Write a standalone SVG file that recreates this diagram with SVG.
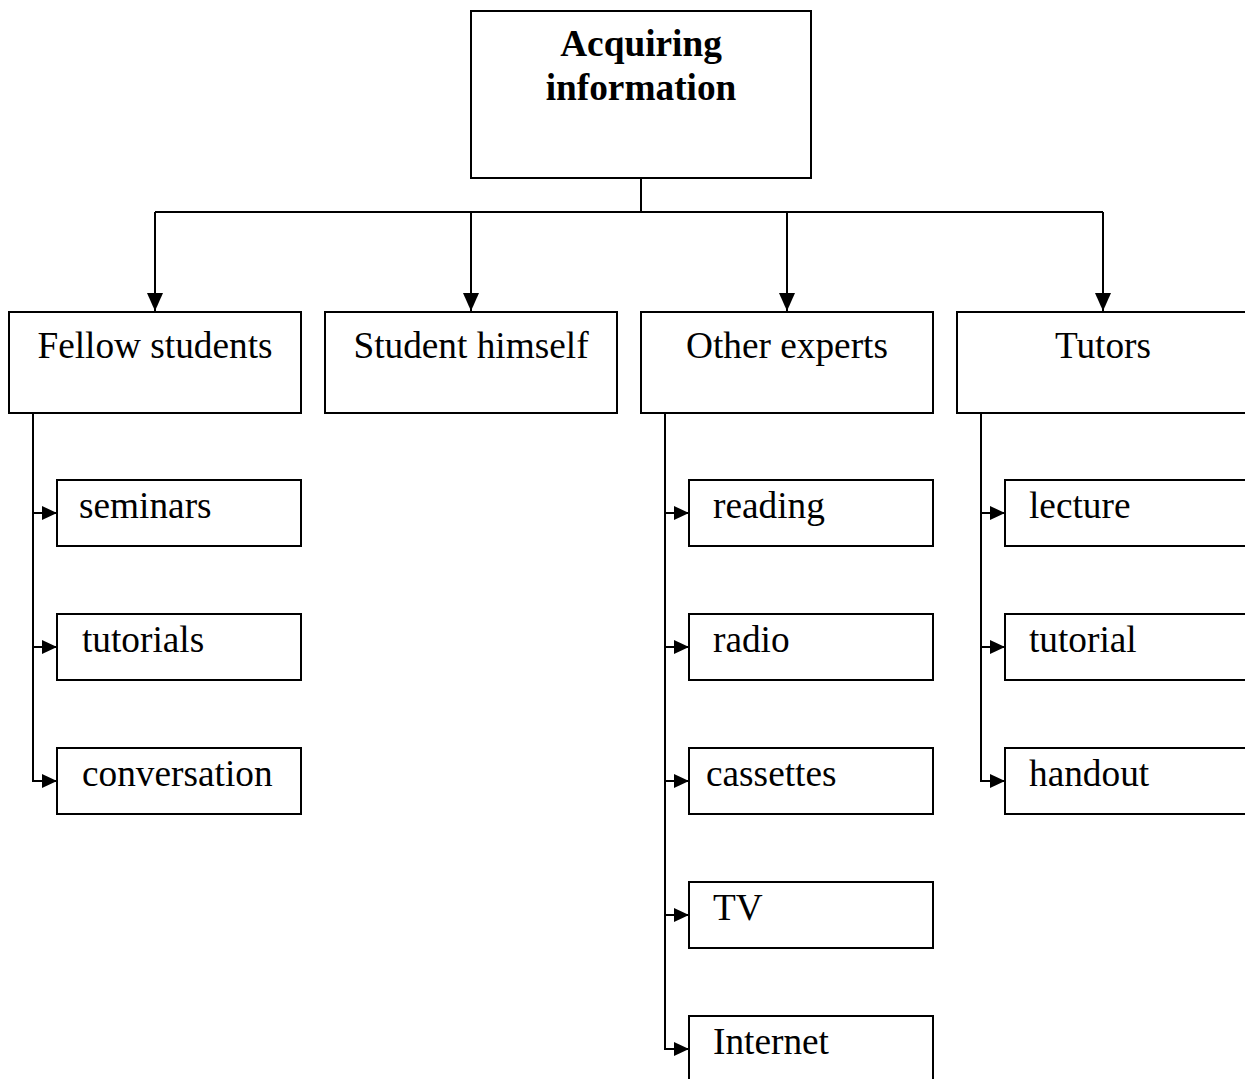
<svg xmlns="http://www.w3.org/2000/svg" width="1245" height="1079" viewBox="0 0 1245 1079">
<defs>
<style>
.box{fill:#fff;stroke:#000;stroke-width:2}
.ln{fill:none;stroke:#000;stroke-width:2}
.t{font-family:"Liberation Serif","Times New Roman",serif;font-size:37.3px;fill:#000}
.c{text-anchor:middle}
.b{font-weight:bold}
</style>
<marker id="ad" markerUnits="userSpaceOnUse" markerWidth="18" markerHeight="16" refX="18" refY="8" orient="auto">
<path d="M0,0 L18,8 L0,16 z" fill="#000"/>
</marker>
<marker id="as" markerUnits="userSpaceOnUse" markerWidth="15" markerHeight="14" refX="15" refY="7" orient="auto">
<path d="M0,0 L15,7 L0,14 z" fill="#000"/>
</marker>
</defs>
<rect width="1245" height="1079" fill="#fff"/>
<g id="connectors">
<path class="ln" d="M641,178 V212 M155,212 H1103"/>
<path class="ln" d="M155,212 V311" marker-end="url(#ad)"/>
<path class="ln" d="M471,212 V311" marker-end="url(#ad)"/>
<path class="ln" d="M787,212 V311" marker-end="url(#ad)"/>
<path class="ln" d="M1103,212 V311" marker-end="url(#ad)"/>
<path class="ln" d="M33,513 H57" marker-end="url(#as)"/>
<path class="ln" d="M33,647 H57" marker-end="url(#as)"/>
<path class="ln" d="M33,413 V781 H57" marker-end="url(#as)"/>
<path class="ln" d="M665,513 H689" marker-end="url(#as)"/>
<path class="ln" d="M665,647 H689" marker-end="url(#as)"/>
<path class="ln" d="M665,781 H689" marker-end="url(#as)"/>
<path class="ln" d="M665,915 H689" marker-end="url(#as)"/>
<path class="ln" d="M665,413 V1049 H689" marker-end="url(#as)"/>
<path class="ln" d="M981,513 H1005" marker-end="url(#as)"/>
<path class="ln" d="M981,647 H1005" marker-end="url(#as)"/>
<path class="ln" d="M981,413 V781 H1005" marker-end="url(#as)"/>
</g>
<g id="acquiring"><rect class="box" x="471" y="11" width="340" height="167"/><text class="t c b" x="641" y="56">Acquiring</text><text class="t c b" x="641" y="100">information</text></g>
<g id="fellow"><rect class="box" x="9" y="312" width="292" height="101"/><text class="t c" x="155" y="358">Fellow students</text></g>
<g id="himself"><rect class="box" x="325" y="312" width="292" height="101"/><text class="t c" x="471" y="358">Student himself</text></g>
<g id="experts"><rect class="box" x="641" y="312" width="292" height="101"/><text class="t c" x="787" y="358">Other experts</text></g>
<g id="tutors"><rect class="box" x="957" y="312" width="292" height="101"/><text class="t c" x="1103" y="358">Tutors</text></g>
<g id="seminars"><rect class="box" x="57" y="480" width="244" height="66"/><text class="t" x="79" y="518">seminars</text></g>
<g id="tutorials"><rect class="box" x="57" y="614" width="244" height="66"/><text class="t" x="82" y="652">tutorials</text></g>
<g id="conversation"><rect class="box" x="57" y="748" width="244" height="66"/><text class="t" x="82" y="786">conversation</text></g>
<g id="reading"><rect class="box" x="689" y="480" width="244" height="66"/><text class="t" x="713" y="518">reading</text></g>
<g id="radio"><rect class="box" x="689" y="614" width="244" height="66"/><text class="t" x="713" y="652">radio</text></g>
<g id="cassettes"><rect class="box" x="689" y="748" width="244" height="66"/><text class="t" x="706" y="786">cassettes</text></g>
<g id="tv"><rect class="box" x="689" y="882" width="244" height="66"/><text class="t" x="713" y="920">TV</text></g>
<g id="internet"><rect class="box" x="689" y="1016" width="244" height="66"/><text class="t" x="713" y="1054">Internet</text></g>
<g id="lecture"><rect class="box" x="1005" y="480" width="244" height="66"/><text class="t" x="1029" y="518">lecture</text></g>
<g id="tutorial"><rect class="box" x="1005" y="614" width="244" height="66"/><text class="t" x="1029" y="652">tutorial</text></g>
<g id="handout"><rect class="box" x="1005" y="748" width="244" height="66"/><text class="t" x="1029" y="786">handout</text></g>
</svg>
